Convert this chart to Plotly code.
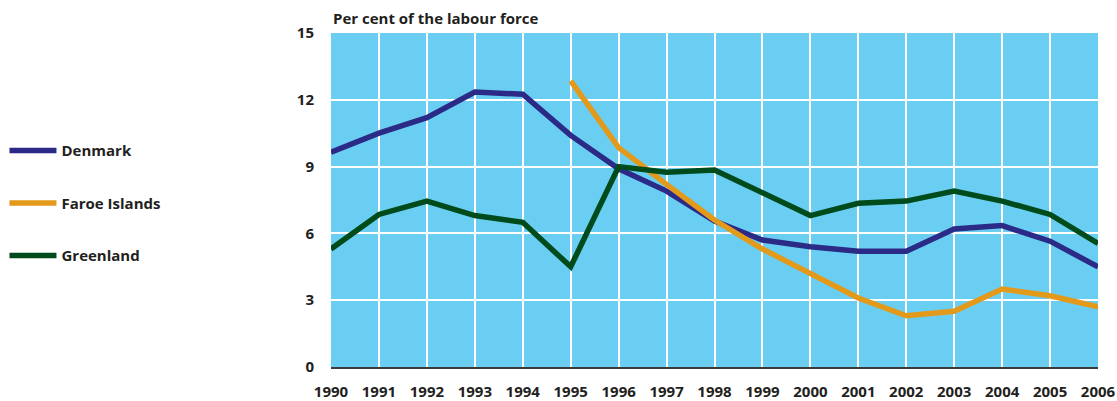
import plotly.graph_objects as go

years = list(range(1990, 2007))
denmark = [9.65, 10.5, 11.2, 12.35, 12.25, 10.4, 8.9, 7.9, 6.55, 5.7, 5.4, 5.2, 5.2, 6.2, 6.35, 5.65, 4.5]
faroe_years = list(range(1995, 2007))
faroe = [12.85, 9.85, 8.2, 6.6, 5.3, 4.2, 3.1, 2.3, 2.5, 3.5, 3.2, 2.7]
greenland = [5.3, 6.85, 7.45, 6.8, 6.5, 4.5, 9.0, 8.75, 8.85, 7.8, 6.8, 7.35, 7.45, 7.9, 7.45, 6.85, 5.55]
y_ticks = [0, 3, 6, 9, 12, 15]

font_family = "Open Sans, Noto Sans, DejaVu Sans, sans-serif"
text_color = "#231F20"

fig = go.Figure()
fig.add_trace(go.Scatter(x=years, y=denmark, mode="lines", name="Denmark",
                         line=dict(color="#2B2A87", width=5.5), legendgroup="a"))
fig.add_trace(go.Scatter(x=faroe_years, y=faroe, mode="lines", name="Faroe Islands",
                         line=dict(color="#E3991A", width=5.5), legendgroup="b"))
fig.add_trace(go.Scatter(x=years, y=greenland, mode="lines", name="Greenland",
                         line=dict(color="#004B1B", width=5.5), legendgroup="c"))

plot_h = 401 - 33 - 34

fig.update_layout(
    width=1117, height=401,
    margin=dict(l=331, r=19, t=33, b=34, autoexpand=False),
    paper_bgcolor="white",
    plot_bgcolor="#6ACEF3",
    font=dict(family=font_family, size=15, color=text_color),
    showlegend=True,
    legend=dict(
        xref="container", yref="container", x=0.004, y=0.665, xanchor="left", yanchor="top",
        tracegroupgap=30, itemwidth=47, bgcolor="rgba(0,0,0,0)",
        font=dict(family=font_family, size=15, color=text_color, weight="bold"),
    ),
    annotations=[dict(
        text="<b>Per cent of the labour force</b>", xref="paper", yref="paper",
        x=0, y=1 + 15 / plot_h, xanchor="left", yanchor="middle", showarrow=False,
        font=dict(family=font_family, size=15, color=text_color),
    )],
)

fig.update_xaxes(
    range=[1990, 2006], tickvals=years, ticktext=[str(y) for y in years],
    showgrid=True, gridcolor="white", gridwidth=2,
    showline=True, linecolor="#3a3a3a", linewidth=2,
    ticks="", ticklabelstandoff=10, zeroline=False, automargin=False,
    tickfont=dict(family=font_family, size=15, color=text_color, weight="bold"),
)
fig.update_yaxes(
    range=[0, 15], tickvals=y_ticks,
    showgrid=True, gridcolor="white", gridwidth=2,
    zeroline=False, showline=False, ticks="", ticklabelstandoff=16, automargin=False,
    tickfont=dict(family=font_family, size=15, color=text_color, weight="bold"),
)

fig.write_html("out.html", config={"displayModeBar": False},
               post_script="document.body.style.margin='0';")
